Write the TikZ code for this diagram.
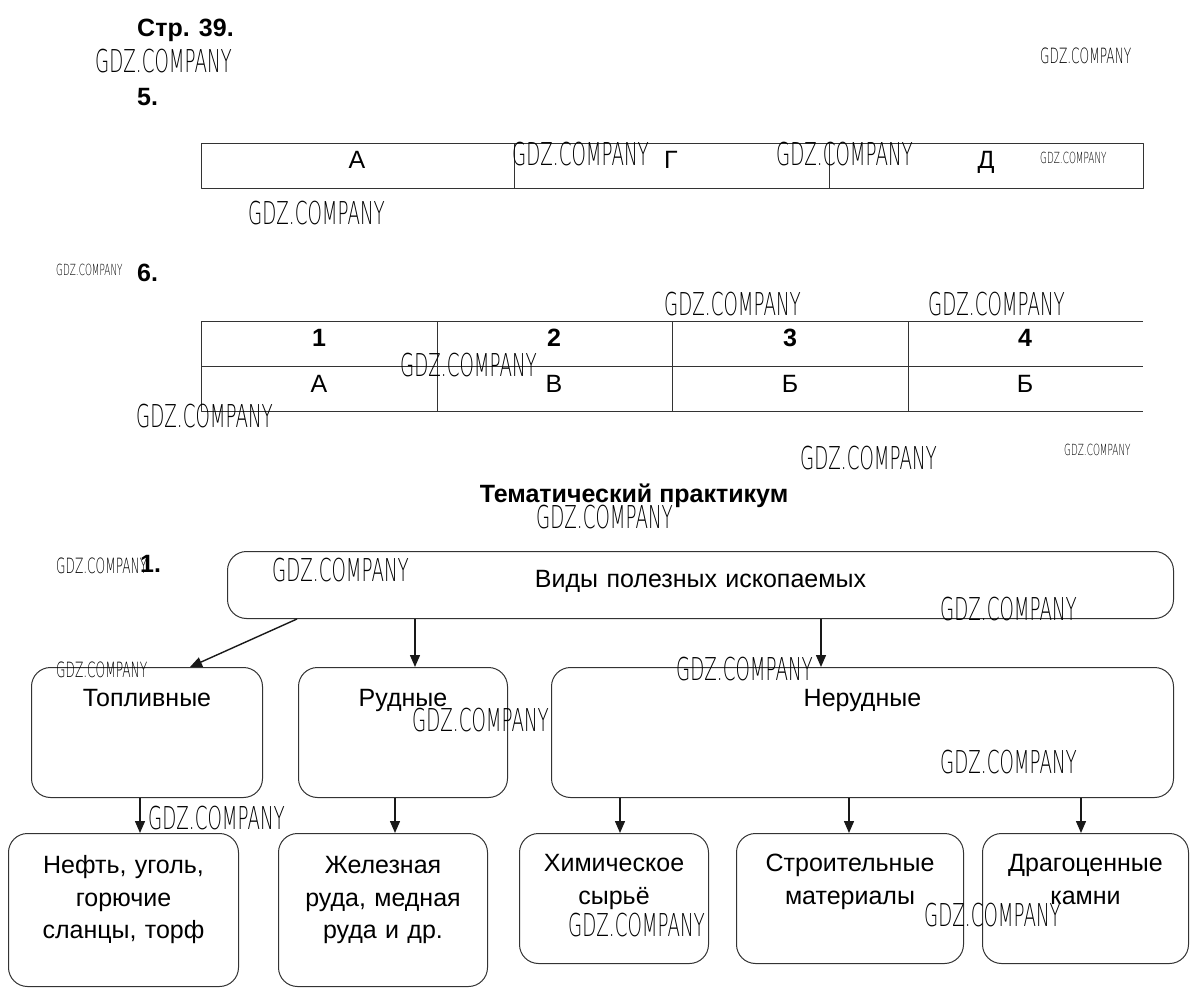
\documentclass[tikz,border=0pt]{standalone}
\usepackage{fontspec}
\setmainfont{Liberation Sans}
\newfontfamily\gdzfont[FakeStretch=0.58]{DejaVu Sans ExtraLight}
\usetikzlibrary{arrows.meta}
\newcommand\boxfont{\fontsize{25}{32.5}\selectfont}
\newcommand\headfont{\fontsize{25}{30}\selectfont\bfseries}
\tikzset{
	kbox/.style={draw=black!80, line width=1pt, rounded corners=19pt, inner sep=0pt, align=center, font=\boxfont},
	arr/.style={draw=black!90, line width=1.4pt, -{Triangle[length=12pt,width=10pt]}},
	cell/.style={anchor=base, inner sep=0pt, font=\boxfont},
	head/.style={anchor=base west, inner sep=0pt, font=\headfont},
	wmL/.style={anchor=base west, inner sep=0pt, font=\gdzfont\fontsize{31.5}{32}\selectfont},
	wmM/.style={anchor=base west, inner sep=0pt, font=\gdzfont\fontsize{21}{22}\selectfont},
	wmS/.style={anchor=base west, inner sep=0pt, font=\gdzfont\fontsize{15.3}{16}\selectfont},
}
\begin{document}
\begin{tikzpicture}[x=1pt, y=-1pt, line join=round]
	\useasboundingbox (0,0) rectangle (1203,1000);
	% headings
	\node[head] (pg) at (137,37) {Стр. 39.};
	\node[head] (n5) at (137,106) {5.};
	\node[head] (n6) at (137,282) {6.};
	\node[head, anchor=base] (tp) at (634,502) {Тематический практикум};
	\node[head] (n1) at (140,572) {1.};
	% table 5
	\draw[black!80, line width=1pt] (201,144) rectangle (1143,189);
	\draw[black!80, line width=1pt] (514,144)--(514,189) (829,144)--(829,189);
	\foreach \x/\t [count=\i] in {357/А, 671/Г, 986/Д}{
		\node[cell] (ta\i) at (\x,169) {\t};
	}
	% table 6
	\draw[black!80, line width=1pt] (1143,322)--(201,322)--(201,412)--(1143,412) (201,367)--(1143,367);
	\draw[black!80, line width=1pt] (437,322)--(437,412) (672,322)--(672,412) (908,322)--(908,412);
	\foreach \x/\n/\t [count=\i] in {319/1/А, 554/2/В, 790/3/Б, 1025/4/Б}{
		\node[cell, font=\boxfont\bfseries] (tn\i) at (\x,347) {\n};
		\node[cell] (tl\i) at (\x,392) {\t};
	}
	% scheme
	\node[kbox, anchor=north west, text width=946pt, text height=36pt, text depth=31pt] (vid) at (227,551) {Виды полезных ископаемых};
	\node[kbox, anchor=north west, text width=231pt, text height=39pt, text depth=91pt] (fuel) at (31,667) {Топливные};
	\node[kbox, anchor=north west, text width=209pt, text height=39pt, text depth=91pt] (ore) at (298,667) {Рудные};
	\node[kbox, anchor=north west, text width=622pt, text height=39pt, text depth=91pt] (nonore) at (551,667) {Нерудные};
	\node[kbox, anchor=north west, text width=230pt, text height=40pt, text depth=113pt] (neft) at (8,833) {Нефть, уголь,\\горючие\\сланцы, торф};
	\node[kbox, anchor=north west, text width=209pt, text height=40pt, text depth=113pt] (zhel) at (278,833) {Железная\\руда, медная\\руда и др.};
	\node[kbox, anchor=north west, text width=189pt, text height=38pt, text depth=92pt] (him) at (519,833) {Химическое\\сырьё};
	\node[kbox, anchor=north west, text width=227pt, text height=38pt, text depth=92pt] (stroi) at (736,833) {Строительные\\материалы};
	\node[kbox, anchor=north west, text width=206pt, text height=38pt, text depth=92pt] (drag) at (982,833) {Драгоценные\\камни};
	\draw[arr] ([xshift=70pt]vid.south west) -- ([xshift=159pt]fuel.north west);
	\draw[arr] ([xshift=188pt]vid.south west) -- ([xshift=188pt]vid.south west |- ore.north);
	\draw[arr] ([xshift=594pt]vid.south west) -- ([xshift=594pt]vid.south west |- nonore.north);
	\draw[arr] ([xshift=109pt]fuel.south west) -- ([xshift=109pt]fuel.south west |- neft.north);
	\draw[arr] ([xshift=97pt]ore.south west) -- ([xshift=97pt]ore.south west |- zhel.north);
	\draw[arr] ([xshift=69pt]nonore.south west) -- ([xshift=69pt]nonore.south west |- him.north);
	\draw[arr] ([xshift=298pt]nonore.south west) -- ([xshift=298pt]nonore.south west |- stroi.north);
	\draw[arr] ([xshift=530pt]nonore.south west) -- ([xshift=530pt]nonore.south west |- drag.north);
	% watermarks
	\foreach \x/\y [count=\i] in {95/73, 512/166, 776/166, 248/225, 664/316, 928/316, 400/377, 136/428, 800/469, 536/528, 272/581, 940/620, 676/680, 412/731, 940/773, 148/829, 568/936, 924/926}{
		\node[wmL] (wl\i) at (\x,\y) {GDZ.COMPANY};
	}
	\foreach \x/\y [count=\i] in {1040/64, 56/573, 56/677}{
		\node[wmM] (wm\i) at (\x,\y) {GDZ.COMPANY};
	}
	\foreach \x/\y [count=\i] in {1040/164, 56/276, 1064/456}{
		\node[wmS] (ws\i) at (\x,\y) {GDZ.COMPANY};
	}
\end{tikzpicture}
\end{document}
